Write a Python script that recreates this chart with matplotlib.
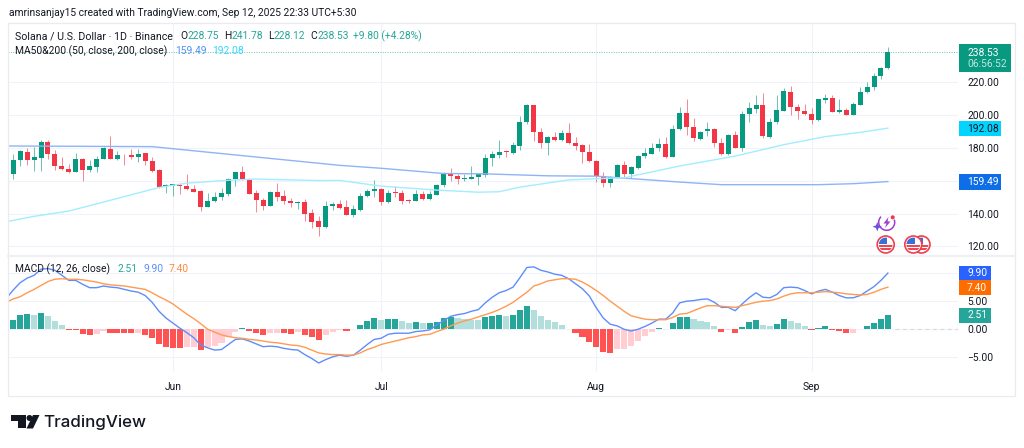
import numpy as np
import pandas as pd
import matplotlib
matplotlib.use("Agg")
import matplotlib.pyplot as plt
from matplotlib.patches import Rectangle, Circle, Polygon, Arc

plt.rcParams["font.family"] = ["Roboto", "DejaVu Sans"]

dates = pd.date_range("2025-05-09", "2025-09-12")

opens = [164.0,172.5,177.6,172.7,174.1,183.4,176.6,168.9,167.0,165.6,173.5,166.6,168.5,173.3,179.4,173.5,175.9,175.5,174.7,176.8,172.1,166.6,156.7,156.5,157.7,156.9,155.1,153.5,144.1,147.6,150.0,152.0,160.8,165.2,161.2,152.4,148.4,144.5,153.1,150.6,147.6,146.2,147.2,140.1,135.6,131.6,144.3,146.0,
         143.9,139.1,142.3,150.4,153.5,155.1,146.8,152.9,152.6,148.0,147.6,152.2,149.0,151.6,157.1,164.4,163.0,160.8,161.2,162.2,163.8,173.9,176.0,178.0,177.0,181.0,195.6,205.9,189.5,182.8,186.7,184.9,188.9,183.0,181.6,177.8,172.1,163.0,158.5,162.0,169.7,164.0,167.8,175.3,176.6,180.0,182.6,174.5,191.5,
         201.2,192.7,185.7,190.1,191.5,183.0,176.2,187.9,180.2,200.4,204.0,205.9,186.9,195.6,202.8,214.1,205.0,202.8,200.6,196.8,209.5,210.7,202.2,203.2,200.0,206.3,213.9,217.0,223.6,228.75]
highs = [176.2,178.8,179.8,180.8,184.9,184.9,178.8,174.3,170.1,176.8,173.9,172.7,175.1,180.4,187.3,178.4,176.4,179.2,179.2,177.2,174.7,167.0,157.9,158.1,158.9,164.2,157.5,154.5,152.4,153.1,155.5,161.6,165.4,168.7,161.6,154.5,149.4,153.5,158.9,154.5,149.4,147.8,148.8,142.7,138.3,147.4,146.8,148.4,
         148.0,145.0,152.6,155.1,160.3,155.7,154.3,156.7,154.1,149.0,154.1,153.9,153.5,157.9,165.2,168.0,164.4,164.4,168.9,164.8,176.2,178.2,185.1,178.6,183.6,199.7,206.5,206.3,192.2,187.3,189.9,190.7,195.2,186.7,182.4,182.6,172.5,165.4,162.8,170.1,171.9,168.9,175.7,179.8,183.2,186.1,186.7,193.8,204.9,
         209.7,198.2,190.3,195.6,191.9,186.1,188.5,190.1,202.4,208.3,212.1,213.3,198.2,212.1,216.8,217.8,206.9,206.5,204.2,209.9,213.1,212.1,209.9,204.2,208.1,217.0,220.0,225.9,229.1,241.78]
lows = [161.2,168.7,169.7,166.0,166.0,173.1,166.6,166.6,165.0,165.2,159.9,165.6,165.6,173.1,173.1,172.7,169.3,173.1,171.5,169.7,165.6,155.5,152.4,150.8,151.8,154.1,152.9,141.7,143.9,147.2,148.4,150.4,156.5,160.3,151.8,140.9,142.3,144.3,147.8,146.0,143.9,142.9,135.6,131.2,126.5,131.0,142.3,142.7,
        138.9,137.9,141.5,150.0,150.0,145.4,146.4,150.2,145.8,146.6,147.4,148.4,148.4,151.2,156.3,159.9,158.3,159.9,160.8,157.5,162.4,168.9,173.7,174.7,176.6,178.6,194.4,184.5,179.8,175.7,184.5,184.5,182.4,178.6,170.7,171.7,159.5,156.1,156.3,161.8,161.8,161.6,167.4,174.1,176.4,178.2,173.7,174.3,191.1,
        187.7,184.0,185.1,187.5,180.6,176.0,176.0,179.8,178.0,195.6,201.6,186.1,186.1,194.3,202.4,200.2,197.6,200.0,194.5,196.6,207.7,201.8,201.4,199.8,199.8,205.9,213.3,215.4,222.0,228.12]
closes = [172.7,178.0,172.7,174.3,183.8,176.4,168.9,167.0,165.6,173.1,166.6,168.7,173.5,179.8,173.5,175.9,175.5,174.7,176.6,171.9,166.2,155.9,157.3,157.9,156.9,154.7,153.1,144.1,147.8,150.2,152.6,161.0,165.2,160.8,152.2,148.4,144.5,153.1,150.2,147.4,146.2,147.2,139.9,135.0,131.8,144.7,146.0,143.5,
          139.1,142.5,150.8,153.5,155.1,147.0,152.4,152.4,147.8,147.4,152.2,149.0,151.8,157.5,164.6,162.6,160.8,161.4,162.4,164.2,174.1,176.2,177.6,177.6,181.8,195.8,206.1,189.5,183.0,186.9,184.9,188.9,183.0,181.4,177.8,172.1,162.8,158.5,162.4,169.7,164.2,168.5,175.3,176.8,180.2,182.6,174.7,191.8,201.5,
          192.7,186.1,189.9,191.3,183.0,176.4,188.1,180.2,200.8,204.2,205.9,187.3,195.8,203.2,214.5,205.0,202.6,200.4,197.0,209.7,210.7,202.2,203.4,200.0,206.7,214.1,217.2,223.8,228.7,238.53]

ma200_days = [-1,20,47,53,62,68,77,84,88,96,102,116,121,126]
ma200 = [181.2,180.8,169.4,167.6,164.4,164.2,163.0,162.8,161.6,159.2,157.6,157.6,158.2,159.49]
ma50_days = [-1,3,8,15,21,25,31,35,44,47,53,61,67,70,73,80,85,88,90,96,104,111,117,122,126]
ma50 = [135.0,138.3,141.5,149.2,155.9,158.5,160.3,161.0,160.1,160.2,156.7,154.3,153.0,153.3,156.1,160.5,161.4,161.8,163.6,169.0,175.0,182.0,186.9,189.5,192.08]

# first entry of the two macd lines is the day before the first candle, off the left edge
macd_line = [5.4,6.9,8.2,9.0,9.5,10.6,10.7,10.4,9.5,8.6,8.6,7.9,7.3,7.3,7.6,7.4,7.3,7.0,6.7,6.5,5.9,4.7,3.1,1.9,1.0,0.1,-0.7,-1.6,-2.9,-3.4,-3.8,-3.7,-2.8,-1.9,-1.8,-2.2,-2.7,-3.2,-3.1,-3.2,-3.5,-3.7,-3.8,-4.6,-5.3,-6.1,-5.5,-5.0,-4.7,
             -4.9,-4.7,-3.8,-2.8,-1.9,-1.7,-1.0,-0.8,-0.8,-0.8,-0.5,-0.4,-0.2,0.7,1.4,2.2,2.5,2.7,3.1,3.4,4.6,5.6,6.4,6.8,7.4,9.1,10.9,11.0,10.4,10.1,9.7,9.5,8.9,8.0,7.1,5.8,3.7,1.9,0.8,0.5,-0.1,-0.4,-0.1,0.4,1.0,1.7,1.7,2.8,4.6,
             4.9,5.0,5.2,5.3,4.7,3.8,3.8,3.2,4.4,5.5,6.4,5.6,5.5,6.1,7.3,7.4,7.3,6.8,6.2,6.7,7.0,6.5,5.9,5.5,5.5,5.9,6.7,7.5,8.6,9.9]
signal_line = [4.7,5.3,5.7,6.4,7.0,7.7,8.4,8.8,8.9,8.8,8.8,8.7,8.5,8.3,8.0,7.8,7.7,7.6,7.4,7.2,7.0,6.4,5.7,5.1,4.4,3.5,2.6,1.8,0.9,-0.1,-0.6,-1.1,-1.4,-1.6,-1.7,-1.9,-2.0,-2.2,-2.4,-2.5,-2.7,-2.9,-3.0,-3.3,-3.8,-4.3,-4.5,-4.6,-4.6,
               -4.7,-4.7,-4.3,-3.7,-3.3,-2.8,-2.5,-2.2,-1.9,-1.6,-1.4,-1.1,-1.0,-0.5,-0.1,0.5,1.0,1.4,1.7,2.1,2.5,2.9,3.4,4.0,4.7,5.6,6.5,7.6,8.0,8.5,8.7,8.9,8.9,8.8,8.3,7.6,6.8,5.9,4.9,4.0,3.1,2.3,2.0,1.7,1.6,1.6,1.6,2.0,2.6,
               2.7,3.2,3.7,4.1,4.1,4.0,3.9,3.8,4.1,4.4,4.7,4.9,5.0,5.3,5.8,6.2,6.4,6.4,6.4,6.5,6.6,6.5,6.4,6.2,6.1,6.0,6.1,6.5,7.0,7.4]
histogram = [1.56,2.46,2.64,2.50,2.88,2.34,1.44,0.66,-0.20,-0.21,-0.90,-1.14,-1.00,-0.40,-0.70,-0.71,-0.72,-0.78,-0.76,-1.14,-1.68,-2.64,-3.24,-3.36,-3.37,-3.30,-3.28,-3.70,-3.20,-3.15,-2.58,-1.50,-0.54,0.12,-0.36,-0.72,-1.20,-0.84,-0.72,-0.84,-0.90,-0.66,-1.14,-1.50,-1.98,-1.14,-0.60,-0.30,
             -0.35,-0.05,0.66,1.32,1.86,1.56,1.68,1.70,1.38,1.02,1.14,0.96,0.98,1.20,1.86,2.04,1.92,1.74,1.62,1.60,2.04,2.34,2.46,2.34,2.46,3.30,4.08,3.36,2.28,1.56,1.20,0.72,-0.12,-0.78,-1.44,-2.28,-3.30,-4.14,-4.32,-3.60,-3.54,-3.06,-2.22,-1.32,-0.60,0.10,0.03,0.96,2.10,
             2.16,1.68,1.44,1.26,0.54,-0.54,-0.30,-0.84,0.30,1.14,1.62,0.72,0.54,0.84,1.74,1.44,1.08,0.48,-0.24,0.18,0.42,-0.18,-0.36,-0.84,-0.72,-0.12,0.42,1.02,1.68,2.51]

price_ticks = [120,140,160,180,200,220]
macd_ticks = [-5,0,5,10]
macd_tick_labels = ["\u22125.00","0.00","5.00",""]

GREEN = "#089981"
RED = "#f23645"
GRID = "#f0f3fa"
TEXT = "#131722"
TEAL = "#26a69a"
FS = 7.4

W, H = 1024, 448
PANE_L, PANE_R = 8, 958

def pane(top, bottom):
    return [PANE_L/W, 1-bottom/H, (PANE_R-PANE_L)/W, (bottom-top)/H]

fig = plt.figure(figsize=(W/100, H/100), dpi=100, facecolor="white")
ax = fig.add_axes(pane(23, 256))
ax2 = fig.add_axes(pane(257, 372), sharex=ax)

x = np.arange(len(dates))
month_pos = x[dates.day == 1]
month_labels = dates[dates.day == 1].strftime("%b")

opens, highs, lows, closes = map(np.array, (opens, highs, lows, closes))
hist = np.array(histogram)
up = closes >= opens
colors = np.where(up, GREEN, RED)

ax.vlines(x, lows, highs, colors=colors, linewidth=0.7, alpha=0.6, zorder=3)
ax.bar(x, np.abs(closes-opens), bottom=np.minimum(opens, closes), width=0.72, color=colors, zorder=4)
ax.plot(ma200_days, ma200, color="#8fb4f6", lw=1.0, zorder=5)
ax.plot(ma50_days, ma50, color="#a2edff", lw=1.0, zorder=5)
ax.axhline(closes[-1], color=GREEN, lw=0.7, ls=(0, (1, 1.5)), alpha=0.6, zorder=2)

ax.set_xlim(-0.76, 136.1)
ax.set_ylim(114.1, 256.2)
ax.set_yticks(price_ticks)
ax.yaxis.set_major_formatter(plt.FormatStrFormatter("%.2f"))

# macd pane, bar shade depends on whether the bar grew or shrank
prev = np.r_[hist[0], hist[:-1]]
bar_colors = []
for h, p in zip(hist, prev):
    if h >= 0:
        bar_colors.append("#26a69a" if h >= p else "#b2dfdb")
    else:
        bar_colors.append("#ff5252" if h < p else "#ffcdd2")
ax2.bar(x, hist, width=0.88, color=bar_colors, zorder=3)
line_days = np.arange(-1, len(dates))
ax2.plot(line_days, macd_line, color="#5f8dfb", lw=1.0, zorder=4)
ax2.plot(line_days, signal_line, color="#ff9a52", lw=1.0, zorder=4)
ax2.plot([len(x), 136.1], [0, 0], color="#d8dbe3", lw=0.9, ls=(0, (3, 3)), zorder=2)
ax2.set_ylim(-7.7, 12.76)
ax2.set_yticks(macd_ticks, labels=macd_tick_labels)
ax2.set_xticks(month_pos, labels=month_labels)

for a in (ax, ax2):
    a.yaxis.tick_right()
    a.grid(True, color=GRID, lw=0.8)
    a.set_axisbelow(True)
    a.tick_params(axis="both", length=0, labelsize=FS, labelcolor=TEXT)
    a.tick_params(axis="y", pad=6.5)
    a.tick_params(axis="x", pad=7.5)
    for s in a.spines.values():
        s.set_visible(False)
plt.setp(ax.get_xticklabels(), visible=False)

# overlay in pixel coordinates for header, badges, icons
ov = fig.add_axes([0, 0, 1, 1], zorder=10)
ov.set_xlim(0, W)
ov.set_ylim(H, 0)
ov.axis("off")
ov.patch.set_alpha(0)

ov.add_patch(Rectangle((8, 23), 1007, 373, fill=False, ec="#e9ebf1", lw=0.9))
ov.plot([8, 1015], [256, 256], color="#eef0f5", lw=1.6)

def label(px, py, s, color=TEXT, size=FS, **kw):
    ov.text(px, py, s, color=color, fontsize=size, va="center", ha=kw.pop("ha", "left"), **kw)

label(9, 13, "amrinsanjay15 created with TradingView.com, Sep 12, 2025 22:33 UTC+5:30")
label(15, 36, "Solana / U.S. Dollar \u00b7 1D \u00b7 Binance", size=7.7)
for px, letter, vx, val in [(180.5, "O", 188, "228.75"), (224, "H", 232, "241.78"), (268, "L", 273.5, "228.12"), (310, "C", 317, "238.53")]:
    label(px, 36, letter)
    label(vx, 36, val, color=TEAL)
label(353, 36, "+9.80 (+4.28%)", color=TEAL)
label(15, 51, "MA50&200 (50, close, 200, close)")
label(175, 51, "159.49", color="#4f93f8")
label(212.5, 51, "192.08", color="#33d6ff")
label(15, 269, "MACD (12, 26, close)")
label(117, 269, "2.51", color=TEAL)
label(143, 269, "9.90", color="#5f8dfb")
label(169, 269, "7.40", color="#ff8a3d")

def badge(top, bottom, right, color, text, tcolor="white"):
    ov.add_patch(Rectangle((959, top), right-959, bottom-top, fc=color, ec="none"))
    label(967, (top+bottom)/2, text, color=tcolor)

ov.add_patch(Rectangle((959, 44), 52, 28, fc=GREEN, ec="none"))
label(967, 52.5, "238.53", color="white")
label(967, 64, "06:56:52", color="#bfe6df")
badge(121, 136, 1001, "#00d4ff", "192.08", TEXT)
badge(174, 190, 1001, "#0d6ee8", "159.49")
badge(266, 280.5, 991, "#2962ff", "9.90")
badge(280.5, 295, 991, "#ff6d00", "7.40")
badge(308, 323, 991, "#26a69a", "2.51")

def flag(cx, cy, r=8.5):
    ring = Circle((cx, cy), r, fc="white", ec="#f0404f", lw=1.2, zorder=5)
    ov.add_patch(ring)
    inner = Circle((cx, cy), r-1.6, transform=ov.transData)
    for dy in (1.5, 5.0):
        ln, = ov.plot([cx-r, cx+r], [cy+dy, cy+dy], color="#f0404f", lw=1.4, solid_capstyle="butt", zorder=5)
        ln.set_clip_path(inner)
    canton = Rectangle((cx-r, cy-r), r+1.5, r, fc="#3b6fd8", ec="none", zorder=5)
    ov.add_patch(canton)
    canton.set_clip_path(inner)

flag(921.5, 244.5)
flag(913.3, 244.5)
flag(885.7, 244.5)

# events icon
ov.add_patch(Arc((886.7, 222.3), 16, 16, theta1=-20, theta2=225, ec="#9c3fd0", lw=1.1))
ov.add_patch(Polygon([(888.5, 217), (883.5, 223.5), (886.5, 223.5), (885, 228), (890.5, 221.5), (887.5, 221.5)], fc="#9c3fd0", ec="none"))
ov.add_patch(Polygon([(877.3, 222), (878.6, 225.4), (882, 226.7), (878.6, 228), (877.3, 231.4), (876, 228), (872.6, 226.7), (876, 225.4)], fc="#6a4fe0", ec="none"))
ov.add_patch(Circle((892.7, 217.3), 2, fc="#f23645", ec="none"))

# logo
ov.add_patch(Polygon([(10.7, 415), (26, 415), (26, 428.5), (18, 428.5), (18, 421), (10.7, 421)], fc=TEXT, ec="none"))
ov.add_patch(Circle((29.5, 418), 3, fc=TEXT, ec="none"))
ov.add_patch(Polygon([(33, 415), (39.5, 415), (33, 428.5), (26.5, 428.5)], fc=TEXT, ec="none"))
ov.text(43, 422.5, "TradingView", color=TEXT, fontsize=12.2, fontfamily="Inter", fontweight="medium", va="center")

fig.savefig("out.png", dpi=100)
